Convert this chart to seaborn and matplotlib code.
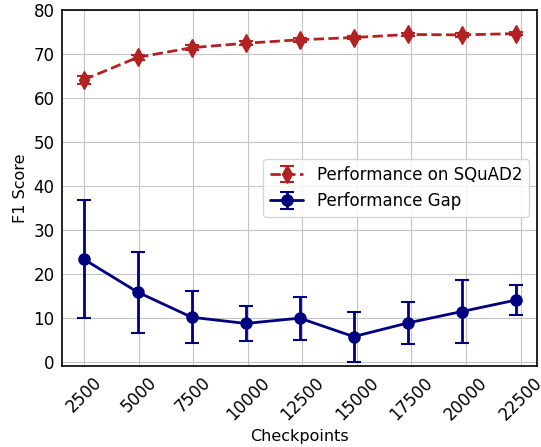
import numpy as np
import matplotlib
matplotlib.use("Agg")
import matplotlib.pyplot as plt
import seaborn as sns

# checkpoint steps (points sit slightly left of the round tick values)
checkpoints = [2475, 4950, 7425, 9900, 12375, 14850, 17325, 19800, 22275]
tick_values = [2500, 5000, 7500, 10000, 12500, 15000, 17500, 20000, 22500]

# F1 on SQuAD2
squad_f1 = [64.1, 69.2, 71.4, 72.4, 73.2, 73.7, 74.4, 74.3, 74.6]
squad_err = [0.9, 0.6, 0.5, 0.5, 0.4, 0.4, 0.4, 0.4, 0.4]

# performance gap
gap_f1 = [23.3, 15.8, 10.1, 8.7, 9.9, 5.7, 8.8, 11.4, 14.0]
gap_err = [13.4, 9.2, 5.9, 3.9, 4.9, 5.7, 4.7, 7.1, 3.4]

sns.set_style("whitegrid", {"axes.edgecolor": "black", "grid.color": "#c4c4c4",
                            "text.color": "black", "axes.labelcolor": "black",
                            "xtick.color": "black", "ytick.color": "black"})
plt.rcParams["font.family"] = ["DejaVu Sans"]

fig, ax = plt.subplots(figsize=(5.41, 4.47), dpi=100)
fig.subplots_adjust(left=0.115, right=0.993, top=0.978, bottom=0.181)

ax.errorbar(checkpoints, squad_f1, yerr=squad_err, color="#b22222",
            linestyle="--", linewidth=2, marker="d", markersize=9,
            capsize=5, capthick=1.5, label="Performance on SQuAD2")
ax.errorbar(checkpoints, gap_f1, yerr=gap_err, color="#000080",
            linestyle="-", linewidth=2, marker="o", markersize=8,
            capsize=5, capthick=1.5, label="Performance Gap")

ax.set_ylim(-1, 80)
ax.set_yticks(np.arange(0, 81, 10))
ax.set_xticks(tick_values)
ax.set_xticklabels([str(t) for t in tick_values], rotation=45)
ax.tick_params(labelsize=12, pad=2)
ax.set_xlabel("Checkpoints", fontsize=11.5)
ax.set_ylabel("F1 Score", fontsize=11.5)
for s in ax.spines.values():
    s.set_linewidth(1.2)

ax.legend(loc="center right", fontsize=12)

fig.savefig("out.png", dpi=100)
